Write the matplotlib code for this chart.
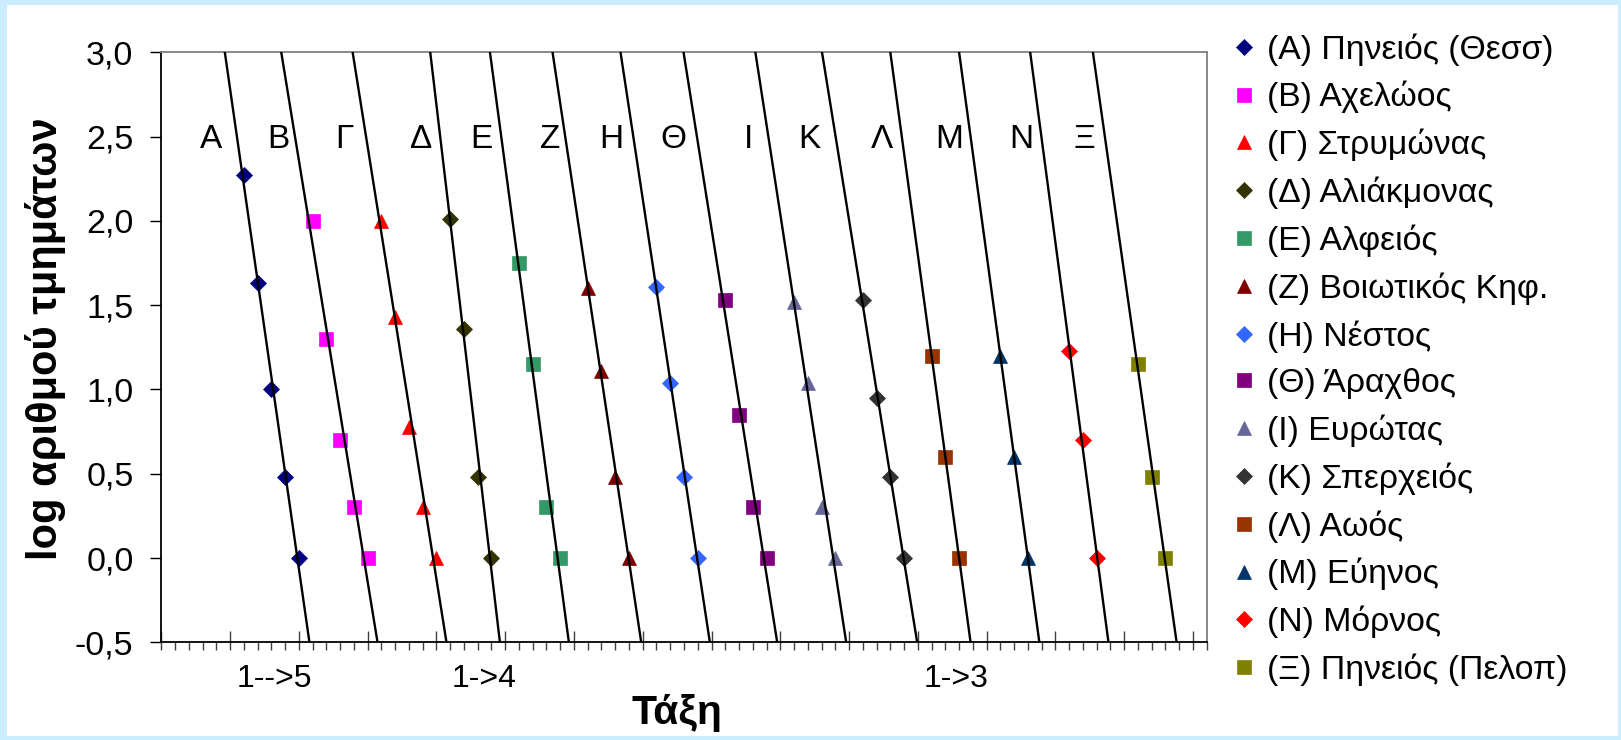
import numpy as np
import matplotlib
matplotlib.use("Agg")
import matplotlib.pyplot as plt
from matplotlib.patches import Rectangle
from matplotlib.ticker import MultipleLocator, FuncFormatter

plt.rcParams["font.family"] = ["Liberation Sans", "DejaVu Sans"]

# rivers: legend label, short letter, marker, colour
labels = ["(Α) Πηνειός (Θεσσ)", "(Β) Αχελώος", "(Γ) Στρυμώνας", "(Δ) Αλιάκμονας",
          "(Ε) Αλφειός", "(Ζ) Βοιωτικός Κηφ.", "(Η) Νέστος", "(Θ) Άραχθος",
          "(Ι) Ευρώτας", "(Κ) Σπερχειός", "(Λ) Αωός", "(Μ) Εύηνος",
          "(Ν) Μόρνος", "(Ξ) Πηνειός (Πελοπ)"]
letters = ["Α", "Β", "Γ", "Δ", "Ε", "Ζ", "Η", "Θ", "Ι", "Κ", "Λ", "Μ", "Ν", "Ξ"]
markers = ["D", "s", "^", "D", "s", "^", "D", "s", "^", "D", "s", "^", "D", "s"]
colors = ["#000080", "#FF00FF", "#FF0000", "#333300", "#339966", "#800000", "#3366FF",
          "#800080", "#666699", "#333333", "#993300", "#003366", "#FF0000", "#808000"]

# log10 of number of segments for stream order 1, 2, ...
log_counts = [
    [2.27, 1.63, 1.00, 0.48, 0.00],
    [2.00, 1.30, 0.70, 0.30, 0.00],
    [2.00, 1.43, 0.78, 0.30, 0.00],
    [2.01, 1.36, 0.48, 0.00],
    [1.75, 1.15, 0.30, 0.00],
    [1.60, 1.11, 0.48, 0.00],
    [1.61, 1.04, 0.48, 0.00],
    [1.53, 0.85, 0.30, 0.00],
    [1.52, 1.04, 0.30, 0.00],
    [1.53, 0.95, 0.48, 0.00],
    [1.20, 0.60, 0.00],
    [1.20, 0.60, 0.00],
    [1.23, 0.70, 0.00],
    [1.15, 0.48, 0.00],
]

# text boxes under the x axis
order_notes = ["1-->5", "1->4", "1->3"]

SLOT = 5  # each river gets 5 units on the x axis
letter_x = [3.6, 8.5, 13.3, 18.9, 23.3, 28.3, 32.7, 37.2, 42.7, 47.1, 52.4, 57.3, 62.5, 67.1]
note_x = [8.25, 23.5, 57.8]

W, H = 1621, 740
fig = plt.figure(figsize=(W / 100, H / 100), dpi=100)
fig.patch.set_facecolor("#CCECFF")
fig.patches.append(Rectangle((7 / W, 4 / H), (W - 10) / W, (H - 9) / H,
                             transform=fig.transFigure, facecolor="white",
                             edgecolor="none", zorder=-10))

ax = fig.add_axes([161.3 / W, 97.7 / H, 1045.4 / W, 590 / H])
ax.set_facecolor("white")

ymin, ymax = -0.5, 3.0
for i, ys in enumerate(log_counts):
    ys = np.array(ys)
    xs = SLOT * (i + 1) + np.arange(1, len(ys) + 1)
    ax.plot(xs, ys, linestyle="none", marker=markers[i],
            markersize={"D": 8.2, "s": 9.5, "^": 10.5}[markers[i]],
            color=colors[i], markeredgecolor=colors[i], markeredgewidth=0.5,
            label=labels[i], zorder=3)
    # linear trendline, extended across the whole y range
    b, a = np.polyfit(xs, ys, 1)
    yl = np.array([ymax + 0.1, ymin - 0.1])
    ax.plot((yl - a) / b, yl, color="black", linewidth=1.7, zorder=4)

for lx, lt in zip(letter_x, letters):
    ax.text(lx, 2.48, lt, ha="center", va="center", fontsize=24)

for nx, nt in zip(note_x, order_notes):
    ax.text(nx, -0.72, nt, ha="center", va="center", fontsize=23)

ax.set_xlim(0, 76)
ax.set_ylim(ymin, ymax)
ax.xaxis.set_major_locator(MultipleLocator(5))
ax.xaxis.set_minor_locator(MultipleLocator(1))
ax.xaxis.remove_overlapping_locs = False
ax.yaxis.set_major_locator(MultipleLocator(0.5))
ax.yaxis.set_major_formatter(FuncFormatter(lambda v, p: f"{v:.1f}".replace(".", ",")))

ax.tick_params(axis="x", which="major", direction="in", length=8, width=1,
               color="#404040", labelbottom=False)
ax.tick_params(axis="x", which="minor", direction="out", length=6, width=1,
               color="#404040")
ax.tick_params(axis="y", which="major", direction="out", length=8, width=1,
               pad=12, labelsize=24.5)

for s in ["left", "bottom"]:
    ax.spines[s].set_color("black")
    ax.spines[s].set_linewidth(1.3)
for s in ["top", "right"]:
    ax.spines[s].set_color("#808080")
    ax.spines[s].set_linewidth(1.3)

ax.set_ylabel("log αριθμού τμημάτων", fontsize=30, fontweight="bold")
ax.yaxis.set_label_coords(-0.111, 0.515)
ax.set_xlabel("Τάξη", fontsize=29.5, fontweight="bold")
ax.xaxis.set_label_coords(0.493, -0.12)
ax.xaxis.label.set_va("center")
ax.yaxis.label.set_va("center")

ax.legend(loc="upper left", bbox_to_anchor=(1230 / W, 1 - 33 / H),
          bbox_transform=fig.transFigure, frameon=False, fontsize=24.3,
          numpoints=1, handlelength=0.8, handletextpad=0.3, labelspacing=0.455,
          borderpad=0, borderaxespad=0)

fig.savefig("out.png", dpi=100, facecolor=fig.get_facecolor())
